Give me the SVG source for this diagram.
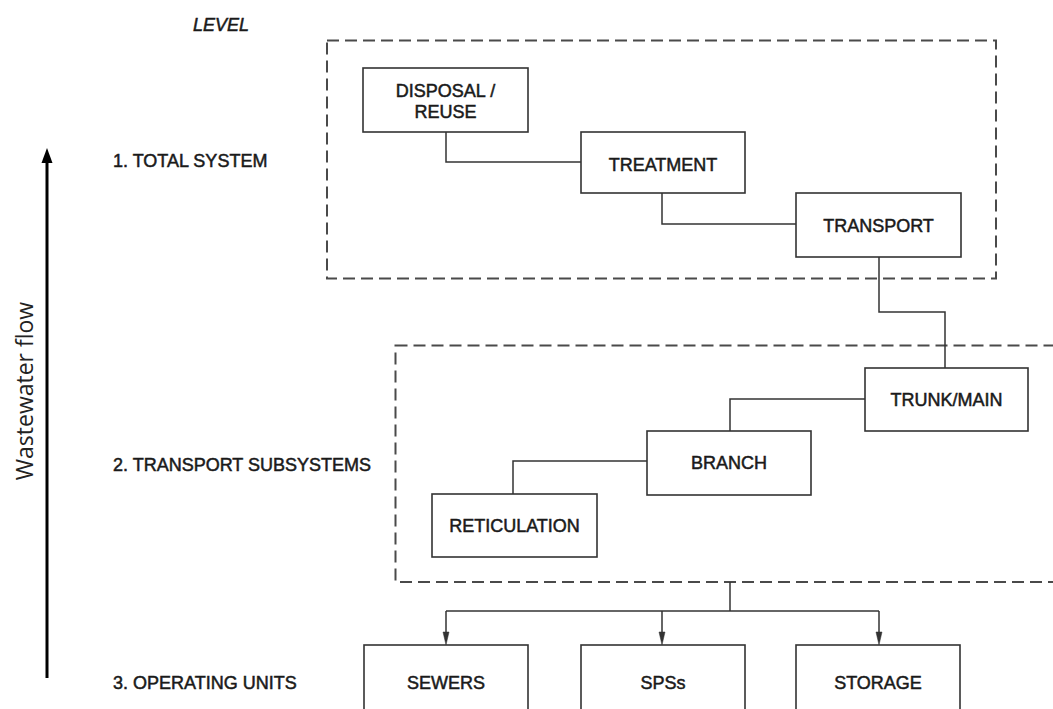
<svg xmlns="http://www.w3.org/2000/svg" width="1053" height="709" viewBox="0 0 1053 709">
<style>
.box{fill:#fff;stroke:#333;stroke-width:1.6}
.grp{fill:none;stroke:#4a4a4a;stroke-width:2;stroke-dasharray:12 6}
.con{fill:none;stroke:#333;stroke-width:1.5}
.ah{fill:#333;stroke:#333;stroke-width:0.5}
.t{font-family:"Liberation Sans",Arial,sans-serif;font-size:18px;fill:#1a1a1a;stroke:#1a1a1a;stroke-width:0.5}
.c{text-anchor:middle}
</style>
<rect width="1053" height="709" fill="#fff"/>

<g id="axis">
<line x1="47" y1="678" x2="47" y2="160" stroke="#000" stroke-width="3"/>
<path d="M47,148 L52.5,163 L41.5,163 Z" fill="#000"/>
<text x="0" y="0" transform="translate(33,391) rotate(-90)" text-anchor="middle" font-family="'Open Sans',sans-serif" font-size="23" fill="#222">Wastewater flow</text>
</g>

<g id="levels">
<text class="t" x="193" y="31" font-style="italic">LEVEL</text>
<text class="t" x="113" y="167">1. TOTAL SYSTEM</text>
<text class="t" x="113" y="471">2. TRANSPORT SUBSYSTEMS</text>
<text class="t" x="113" y="689">3. OPERATING UNITS</text>
</g>

<g id="group-total-system">
<rect class="grp" x="327" y="40.5" width="669" height="238"/>
</g>
<g id="group-transport-subsystems">
<rect class="grp" x="395.5" y="345.5" width="700" height="236.5"/>
</g>

<g id="connectors">
<polyline class="con" points="446,132 446,162 581,162"/>
<polyline class="con" points="662,193 662,224 796,224"/>
<polyline class="con" points="879,257 879,312 945,312 945,368"/>
<polyline class="con" points="865,399 730,399 730,431"/>
<polyline class="con" points="647,461 513,461 513,494"/>
<polyline class="con" points="730,582 730,611"/>
<polyline class="con" points="446,611 879,611"/>
<line class="con" x1="446" y1="611" x2="446" y2="634"/>
<line class="con" x1="662" y1="611" x2="662" y2="634"/>
<line class="con" x1="879" y1="611" x2="879" y2="634"/>
<path class="ah" d="M443,632 L449,632 L446,645 Z"/>
<path class="ah" d="M659,632 L665,632 L662,645 Z"/>
<path class="ah" d="M876,632 L882,632 L879,645 Z"/>
</g>

<g id="node-disposal">
<rect class="box" x="363" y="68" width="165" height="64"/>
<text class="t c" x="445.5" y="97">DISPOSAL /</text>
<text class="t c" x="445.5" y="118">REUSE</text>
</g>
<g id="node-treatment">
<rect class="box" x="581" y="132" width="164" height="61"/>
<text class="t c" x="663" y="171">TREATMENT</text>
</g>
<g id="node-transport">
<rect class="box" x="796" y="193" width="165" height="64"/>
<text class="t c" x="878.5" y="232">TRANSPORT</text>
</g>
<g id="node-trunk">
<rect class="box" x="865" y="368" width="163" height="63"/>
<text class="t c" x="946.5" y="406">TRUNK/MAIN</text>
</g>
<g id="node-branch">
<rect class="box" x="647" y="431" width="164" height="64"/>
<text class="t c" x="729" y="469">BRANCH</text>
</g>
<g id="node-reticulation">
<rect class="box" x="432" y="494" width="165" height="63"/>
<text class="t c" x="514.5" y="532">RETICULATION</text>
</g>
<g id="node-sewers">
<rect class="box" x="364" y="645" width="164" height="80"/>
<text class="t c" x="446" y="689">SEWERS</text>
</g>
<g id="node-sps">
<rect class="box" x="581" y="645" width="164" height="80"/>
<text class="t c" x="663" y="689">SPSs</text>
</g>
<g id="node-storage">
<rect class="box" x="796" y="645" width="164" height="80"/>
<text class="t c" x="878" y="689">STORAGE</text>
</g>
</svg>
